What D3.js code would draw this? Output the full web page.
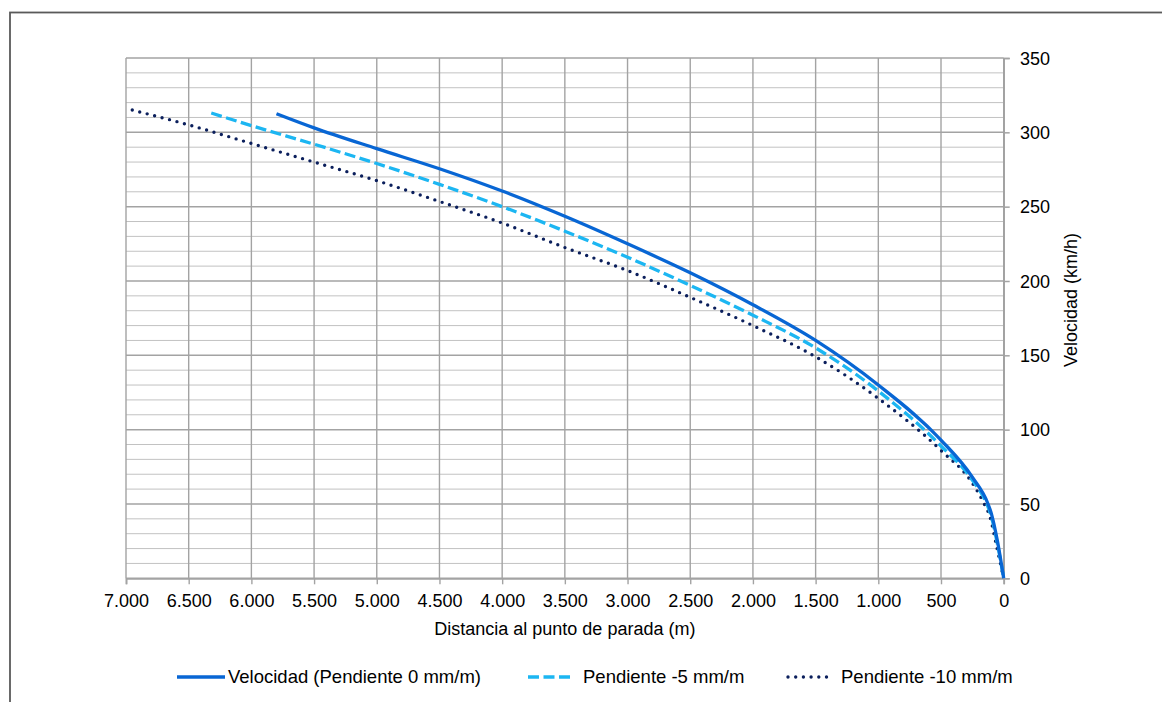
<!DOCTYPE html>
<html>
<head>
<meta charset="utf-8">
<script src="https://cdn.jsdelivr.net/npm/d3@7"></script>
<style>
  html, body { margin: 0; padding: 0; background: #fff; }
  svg { display: block; font-family: "Liberation Sans", Arial, sans-serif; }
</style>
</head>
<body>
<svg id="chart" width="1162" height="702"></svg>
<script>
// Braking curves: speed (km/h) versus distance to the stopping point (m)
const xTicks = [7000, 6500, 6000, 5500, 5000, 4500, 4000, 3500, 3000, 2500, 2000, 1500, 1000, 500, 0];
const yTicks = [0, 50, 100, 150, 200, 250, 300, 350];
const yMinor = d3.range(0, 351, 10);

const seriesNames = ["Velocidad (Pendiente 0 mm/m)", "Pendiente -5 mm/m", "Pendiente -10 mm/m"];

const dist0  = [5800, 5500, 5000, 4500, 4000, 3500, 3000, 2500, 2000, 1500, 1000, 500, 250, 125, 100, 50, 0];
const speed0 = [312.5, 303, 289, 275.5, 260.5, 243.5, 225, 205.5, 184, 160, 130, 93, 68, 50, 44, 25, 0];

const dist5  = [6320, 6000, 5500, 5000, 4500, 4000, 3500, 3000, 2500, 2000, 1500, 1000, 500, 250, 135, 100, 50, 0];
const speed5 = [313, 304.5, 292, 279, 265, 250, 233.5, 216, 197, 177, 155, 126, 89, 66, 50, 42, 23, 0];

const dist10  = [6950, 6500, 6000, 5500, 5000, 4500, 4000, 3500, 3000, 2500, 2000, 1500, 1000, 500, 250, 155, 110, 55, 0];
const speed10 = [315, 305, 292.5, 280, 267.5, 253.5, 239, 222.5, 207, 189, 170, 149, 121, 86, 64, 50, 41.5, 21, 0];

const svg = d3.select("#chart");

const x = d3.scaleLinear().domain([7000, 0]).range([126, 1003.7]);
const y = d3.scaleLinear().domain([0, 350]).range([578.3, 58]);

const es = d3.formatLocale({ decimal: ",", thousands: ".", grouping: [3], currency: ["", " €"] });
const fmt = es.format(",");

// outer chart frame (extends past the right and bottom edges)
svg.append("rect")
  .attr("x", 10).attr("y", 12.5)
  .attr("width", 1200).attr("height", 760)
  .attr("fill", "none").attr("stroke", "#5a5a5a").attr("stroke-width", 1.8);

// horizontal grid
const grid = svg.append("g");
grid.selectAll("line.minor")
  .data(yMinor.filter(v => v % 50 !== 0))
  .join("line")
  .attr("x1", x(7000)).attr("x2", x(0))
  .attr("y1", d => y(d)).attr("y2", d => y(d))
  .attr("stroke", "#c2c2c2").attr("stroke-width", 1);
grid.selectAll("line.major")
  .data(yTicks)
  .join("line")
  .attr("x1", x(7000)).attr("x2", x(0))
  .attr("y1", d => y(d)).attr("y2", d => y(d))
  .attr("stroke", "#a3a3a3").attr("stroke-width", 1.5);

// vertical grid
grid.selectAll("line.vert")
  .data(xTicks)
  .join("line")
  .attr("x1", d => x(d)).attr("x2", d => x(d))
  .attr("y1", y(350)).attr("y2", y(0))
  .attr("stroke", "#a3a3a3").attr("stroke-width", 1.4);

// bottom axis
const xAxis = svg.append("g")
  .attr("transform", `translate(0,${y(0)})`)
  .call(d3.axisBottom(x).tickValues(xTicks).tickSize(6).tickFormat(fmt));
xAxis.select(".domain").attr("stroke", "#a3a3a3").attr("stroke-width", 1.8);
xAxis.selectAll(".tick line").attr("stroke", "#a3a3a3").attr("stroke-width", 1.4);
xAxis.selectAll(".tick text")
  .attr("y", 28.4).attr("dy", null)
  .attr("font-size", 18).attr("fill", "#000")
  .attr("font-family", "Liberation Sans, Arial, sans-serif");

// right axis
const yAxis = svg.append("g")
  .attr("transform", `translate(${x(0)},0)`)
  .call(d3.axisRight(y).tickValues(yTicks).tickSize(6));
yAxis.select(".domain").attr("stroke", "#a3a3a3").attr("stroke-width", 1.6);
yAxis.selectAll(".tick line").attr("stroke", "#a3a3a3").attr("stroke-width", 1.5);
yAxis.selectAll(".tick text")
  .attr("x", 16.3).attr("dy", "0.35em")
  .attr("font-size", 18).attr("fill", "#000")
  .attr("font-family", "Liberation Sans, Arial, sans-serif");

// axis titles
svg.append("text")
  .attr("x", (x(7000) + x(0)) / 2).attr("y", 635)
  .attr("text-anchor", "middle").attr("font-size", 18).attr("fill", "#000")
  .text("Distancia al punto de parada (m)");

svg.append("text")
  .attr("transform", "translate(1077,300) rotate(-90)")
  .attr("text-anchor", "middle").attr("font-size", 18).attr("fill", "#000")
  .text("Velocidad (km/h)");

// series
const styles = [
  { color: "#0866d4", width: 3.3, dash: null, cap: "butt" },
  { color: "#1cb6f2", width: 3.3, dash: "11 4.5", cap: "butt" },
  { color: "#0b1f5c", width: 3.4, dash: "0 7.7", cap: "round" }
];
const series = [
  d3.zip(dist0, speed0),
  d3.zip(dist5, speed5),
  d3.zip(dist10, speed10)
];

const line = d3.line()
  .x(d => x(d[0]))
  .y(d => y(d[1]))
  .curve(d3.curveMonotoneX);

const plot = svg.append("g");
[2, 1, 0].forEach(i => {
  plot.append("path")
    .datum(series[i])
    .attr("d", line)
    .attr("fill", "none")
    .attr("stroke", styles[i].color)
    .attr("stroke-width", styles[i].width)
    .attr("stroke-linecap", styles[i].cap)
    .attr("stroke-linejoin", "round")
    .attr("stroke-dasharray", styles[i].dash);
});

// legend
const legendItems = [
  { x1: 177, x2: 225, tx: 228 },
  { x1: 528, x2: 573, tx: 583 },
  { x1: 788, x2: 831, tx: 841 }
];
const legendY = 677;
const legend = svg.append("g");
legendItems.forEach((it, i) => {
  legend.append("line")
    .attr("x1", it.x1).attr("x2", it.x2)
    .attr("y1", legendY).attr("y2", legendY)
    .attr("stroke", styles[i].color)
    .attr("stroke-width", styles[i].width)
    .attr("stroke-linecap", styles[i].cap)
    .attr("stroke-dasharray", styles[i].dash);
  legend.append("text")
    .attr("x", it.tx).attr("y", legendY)
    .attr("dy", "0.35em")
    .attr("font-size", 18.5).attr("fill", "#000")
    .text(seriesNames[i]);
});
</script>
</body>
</html>
